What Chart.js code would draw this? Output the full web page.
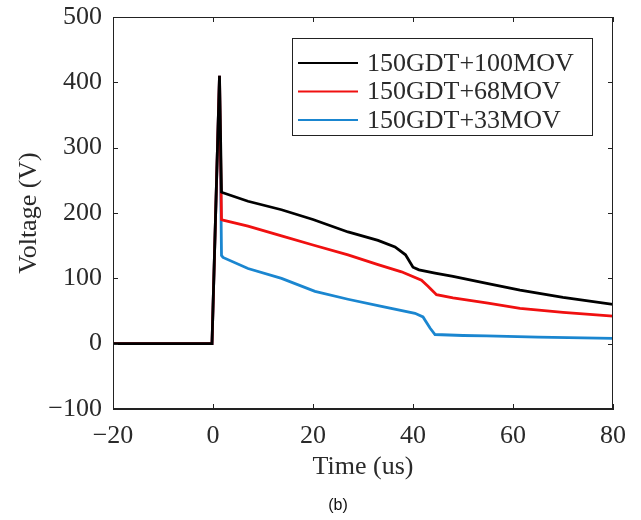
<!DOCTYPE html>
<html>
<head>
<meta charset="utf-8">
<script src="https://cdn.jsdelivr.net/npm/chart.js@4/dist/chart.umd.min.js"></script>
<style>
  html, body { margin: 0; padding: 0; background: #fff; }
  #wrap { width: 641px; height: 520px; }
</style>
</head>
<body>
<div id="wrap"><canvas id="graph" width="641" height="520"></canvas></div>
<script>
// series labels
var labels = ['150GDT+100MOV', '150GDT+68MOV', '150GDT+33MOV'];
var colors = ['#000000', '#f01010', '#1a86d0'];

// time (us) / voltage (V)
var t100 = [-20, -0.2, 1.3, 1.7, 2, 7, 13.7, 20, 27, 33, 36.4, 38.5, 40, 41.2, 44.4, 48, 55, 61.4, 70, 80];
var v100 = [0, 0, 410, 232, 231, 218, 205, 190, 171, 158, 148, 136, 117, 113, 108, 103, 92, 82, 71, 60];

var t68 = [-20, -0.2, 1.3, 1.7, 2, 7, 13.7, 20, 27, 33, 37.7, 41.7, 43, 44.7, 48, 55, 61.4, 70, 80];
var v68 = [0, 0, 410, 190, 189, 180, 165, 151, 136, 121, 110, 97, 88, 75, 70, 62, 54, 48, 42];

var t33 = [-20, -0.2, 1.3, 1.7, 2, 7, 13.7, 20.4, 27, 33.7, 40.4, 42, 43.4, 44.4, 50, 54.7, 65, 80];
var v33 = [0, 0, 410, 135, 132, 115, 100, 80, 68, 57, 46.5, 41, 24, 14, 12.5, 12, 10, 8];

var xTicks = [-20, 0, 20, 40, 60, 80];
var yTicks = [-100, 0, 100, 200, 300, 400, 500];

var serif = '"Liberation Serif", "Times New Roman", serif';
var textColor = '#2a2a2a';

function pts(t, v) {
  return t.map(function (x, i) { return { x: x, y: v[i] }; });
}
function minus(val) {
  return String(val).replace('-', '\u2212');
}

// inward ticks, box frame, legend and caption
var framePlugin = {
  id: 'frame',
  afterDraw: function (chart) {
    var ctx = chart.ctx;
    var a = chart.chartArea;
    var xs = chart.scales.x, ys = chart.scales.y;
    ctx.save();
    ctx.strokeStyle = '#222';
    ctx.lineWidth = 1;
    ctx.strokeRect(a.left + 0.5, a.top + 0.5, a.right - a.left - 1, a.bottom - a.top - 1);
    ctx.beginPath();
    xTicks.forEach(function (v) {
      var px = Math.round(xs.getPixelForValue(v)) + 0.5;
      ctx.moveTo(px, a.bottom); ctx.lineTo(px, a.bottom - 5);
      ctx.moveTo(px, a.top); ctx.lineTo(px, a.top + 5);
    });
    yTicks.forEach(function (v) {
      var py = Math.round(ys.getPixelForValue(v)) + 0.5;
      ctx.moveTo(a.left, py); ctx.lineTo(a.left + 5, py);
      ctx.moveTo(a.right, py); ctx.lineTo(a.right - 5, py);
    });
    ctx.stroke();

    // legend box
    var bx = a.right - 321, by = a.top + 21, bw = 300, bh = 97;
    ctx.fillStyle = '#fff';
    ctx.fillRect(bx, by, bw, bh);
    ctx.strokeRect(bx + 0.5, by + 0.5, bw, bh);
    ctx.font = '26px ' + serif;
    ctx.textBaseline = 'middle';
    ctx.textAlign = 'left';
    chart.data.datasets.forEach(function (ds, i) {
      var ry = by + 25 + i * 28.5;
      ctx.strokeStyle = ds.borderColor;
      ctx.lineWidth = 2;
      ctx.beginPath();
      ctx.moveTo(bx + 6, ry); ctx.lineTo(bx + 66, ry);
      ctx.stroke();
      ctx.fillStyle = textColor;
      ctx.fillText(ds.label, bx + 75, ry + 1);
    });

    // caption
    ctx.font = '16px "Liberation Sans", Arial, sans-serif';
    ctx.fillStyle = '#111';
    ctx.textAlign = 'center';
    ctx.fillText('(b)', 338, 506);
    ctx.restore();
  }
};

var config = {
  type: 'line',
  data: {
    datasets: [
      { label: labels[0], data: pts(t100, v100), borderColor: colors[0] },
      { label: labels[1], data: pts(t68, v68), borderColor: colors[1] },
      { label: labels[2], data: pts(t33, v33), borderColor: colors[2] }
    ]
  },
  options: {
    responsive: false,
    animation: false,
    layout: { padding: { left: 0, right: 28, top: 17, bottom: 0 } },
    elements: {
      line: { borderWidth: 2.8, tension: 0, fill: false },
      point: { radius: 0 }
    },
    plugins: {
      legend: { display: false },
      tooltip: { enabled: false }
    },
    scales: {
      x: {
        type: 'linear',
        min: -20, max: 80,
        afterBuildTicks: function (s) { s.ticks = xTicks.map(function (v) { return { value: v }; }); },
        afterFit: function (s) { s.height = 111; s.paddingLeft = 0; s.paddingRight = 0; },
        ticks: {
          padding: 12, color: textColor, maxRotation: 0,
          font: { family: serif, size: 26 },
          callback: minus
        },
        grid: { drawOnChartArea: false, drawTicks: false },
        border: { color: '#222', width: 1 },
        title: {
          display: true, text: 'Time (us)', color: textColor,
          font: { family: serif, size: 26 },
          padding: { top: 0, bottom: 37 }
        }
      },
      y: {
        type: 'linear',
        min: -100, max: 500,
        afterBuildTicks: function (s) { s.ticks = yTicks.map(function (v) { return { value: v }; }); },
        afterFit: function (s) { s.width = 113; s.paddingTop = 0; s.paddingBottom = 0; },
        ticks: {
          padding: 11, color: textColor,
          font: { family: serif, size: 26 },
          callback: minus
        },
        grid: { drawOnChartArea: false, drawTicks: false },
        border: { color: '#222', width: 1 },
        title: {
          display: true, text: 'Voltage (V)', color: textColor,
          font: { family: serif, size: 26 },
          padding: { top: 14, bottom: 0 }
        }
      }
    }
  },
  plugins: [framePlugin]
};

new Chart(document.getElementById('graph').getContext('2d'), config);
</script>
</body>
</html>
